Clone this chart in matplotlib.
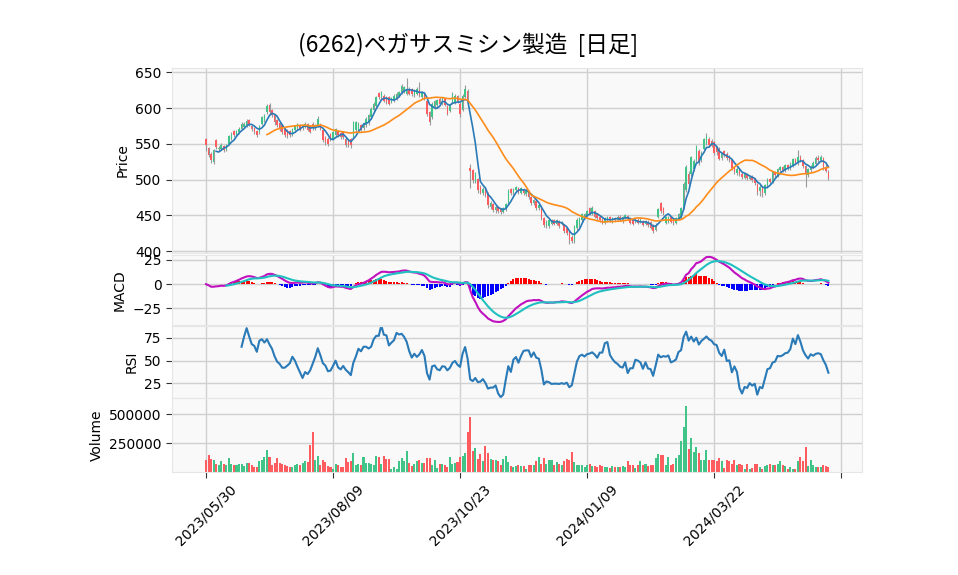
import numpy as np
import pandas as pd
import matplotlib
matplotlib.use("Agg")
import matplotlib.pyplot as plt

title = "(6262)ペガサスミシン製造  [日足]"
tick_pos = [0, 50, 100, 150, 200, 250]
tick_labels = ["2023/05/30", "2023/08/09", "2023/10/23", "2024/01/09", "2024/03/22", ""]

opens = [
 556,544,535,525,555,543,543,547,542,550, 557,568,563,566,571,574,576,583,575,572,
 568,566,578,583,594,604,597,590,583,579, 576,571,569,567,563,569,572,576,572,574,
 577,574,578,572,576,577,569,559,557,563, 557,562,568,565,566,557,555,556,559,569,
 570,576,572,576,579,587,597,603,621,615, 617,615,615,609,611,613,617,622,623,620,
 627,626,618,620,625,615,620,610,594,587, 601,604,613,606,612,603,596,608,608,616,
 606,598,616,624,516,513,497,500,490,481, 486,481,462,466,457,461,458,455,459,468,
 486,481,486,488,482,487,480,484,475,467, 470,460,462,446,436,435,438,443,438,441,
 438,436,432,428,420,414,432,436,443,447, 450,460,452,456,452,448,445,440,443,447,
 441,446,444,448,442,447,449,446,443,441, 444,441,442,438,441,440,436,430,448,467,
 460,440,441,447,442,440,445,448,461,485, 508,508,515,527,540,527,543,550,556,554,
 552,545,543,530,540,536,532,527,517,509, 513,508,503,507,501,504,500,494,484,489,
 482,492,501,497,509,506,513,517,513,520, 516,520,528,523,531,527,519,507,513,518,
 522,530,527,530,518,511]
highs = [
 558,546,538,543,557,547,551,549,550,563, 566,570,569,573,580,581,585,585,577,574,
 570,577,589,592,606,607,599,592,585,581, 578,573,571,569,572,577,579,578,578,580,
 579,576,580,578,589,579,571,561,559,565, 568,572,570,567,568,559,557,558,582,582,
 580,578,581,587,592,601,608,617,623,624, 619,617,617,616,619,622,624,633,631,642,
 629,628,627,629,637,624,622,612,596,608, 612,613,615,615,614,605,606,622,619,618,
 608,620,632,626,522,515,511,502,492,490, 488,483,470,468,464,463,461,462,468,487,
 488,489,491,490,490,489,487,486,477,473, 472,466,464,448,443,446,445,445,445,443,
 442,438,434,430,422,437,446,448,454,454, 458,462,463,458,454,450,447,448,449,449,
 448,448,451,450,449,452,451,448,445,446, 446,446,444,443,443,442,438,439,460,469,
 462,449,449,449,444,448,454,462,497,520, 512,533,529,549,543,540,558,565,560,557,
 554,547,545,538,542,538,534,529,519,517, 515,510,510,509,506,506,502,496,492,491,
 494,502,503,512,512,516,519,519,522,522, 524,530,530,542,534,529,521,516,520,526,
 533,535,535,532,522,513]
lows = [
 540,532,523,522,543,540,541,538,540,548, 555,560,561,564,569,572,574,575,568,564,
 559,564,576,581,592,591,587,577,573,568, 564,559,558,559,561,567,570,568,570,572,
 568,565,570,570,574,569,553,549,547,554, 555,560,560,557,557,545,546,544,557,567,
 568,568,570,574,577,585,595,601,613,613, 608,606,604,607,609,611,615,620,621,618,
 618,617,616,618,616,613,611,589,576,585, 599,602,604,604,603,590,594,606,606,607,
 588,596,614,609,488,496,495,482,480,479, 476,461,459,455,454,453,452,453,456,466,
 478,479,483,480,480,478,477,473,465,464, 458,457,443,434,433,433,436,436,436,433,
 436,425,422,410,411,412,430,434,441,445, 448,450,450,446,444,441,438,438,441,441,
 439,442,442,442,440,445,443,438,436,439, 438,439,435,436,434,431,425,428,446,454,
 451,438,439,439,437,438,443,446,459,483, 490,505,512,525,521,525,541,548,546,545,
 535,535,527,528,532,528,525,514,508,506, 505,501,501,500,499,497,493,478,477,476,
 479,489,494,495,503,504,510,510,511,514, 514,518,520,521,524,516,490,504,510,516,
 520,524,525,514,510,500]
closes = [
 549,535,527,541,546,544,548,541,548,561, 564,562,567,571,578,578,582,577,571,567,
 562,575,587,590,603,594,590,580,576,571, 567,562,561,562,570,575,577,570,576,578,
 570,567,572,576,585,571,556,552,550,556, 566,570,562,560,560,548,549,548,580,580,
 578,570,579,585,590,599,606,615,615,622, 610,608,606,614,617,620,622,631,629,627,
 620,619,625,627,618,622,613,592,580,606, 610,611,606,613,605,592,604,620,617,609,
 592,616,626,611,512,499,509,485,482,487, 479,464,467,458,461,456,455,460,466,485,
 482,487,489,483,488,481,485,476,468,471, 461,464,446,437,440,444,443,438,443,435,
 440,428,425,415,414,435,444,446,452,452, 456,452,460,448,446,443,440,446,447,443,
 446,444,448,444,447,450,445,440,438,444, 440,444,437,441,436,433,428,437,458,456,
 453,447,447,441,439,446,452,460,494,517, 494,531,526,547,524,537,556,561,549,547,
 537,538,529,536,534,530,527,516,511,514, 508,504,508,502,504,499,496,483,490,481,
 492,500,497,510,506,514,517,513,520,516, 521,528,523,532,527,519,508,514,518,523,
 530,527,532,517,512,502]
volumes = [
 108000,148000,114000,108000,71000,57000,97000,71000,57000,125000,
 71000,62000,57000,71000,71000,48000,80000,80000,57000,40000,
 40000,91000,108000,131000,190000,131000,57000,80000,119000,80000,
 71000,62000,48000,40000,40000,57000,71000,57000,80000,91000,
 85000,236000,347000,108000,142000,57000,100000,85000,51000,40000,
 23000,71000,57000,40000,40000,119000,85000,97000,165000,57000,
 71000,62000,134000,80000,80000,71000,62000,142000,134000,71000,
 142000,114000,114000,28000,45000,28000,91000,125000,91000,185000,
 80000,48000,71000,91000,108000,80000,80000,119000,119000,62000,
 100000,34000,71000,71000,57000,40000,134000,71000,80000,85000,
 134000,142000,165000,347000,474000,185000,207000,114000,156000,91000,
 227000,165000,114000,108000,100000,91000,62000,114000,142000,85000,
 48000,43000,51000,57000,51000,48000,28000,57000,57000,57000,
 91000,128000,71000,119000,71000,108000,100000,65000,85000,71000,
 57000,91000,114000,108000,170000,85000,65000,62000,65000,43000,
 62000,71000,51000,51000,45000,57000,51000,40000,43000,34000,
 48000,43000,40000,43000,48000,43000,91000,57000,57000,34000,
 62000,91000,62000,71000,48000,65000,57000,120000,156000,148000,
 150000,57000,134000,57000,71000,122000,148000,270000,389000,568000,
 199000,295000,170000,213000,165000,108000,108000,193000,100000,108000,
 108000,91000,125000,91000,34000,108000,91000,71000,108000,65000,
 71000,57000,28000,71000,28000,34000,71000,71000,43000,28000,
 48000,57000,71000,62000,62000,71000,91000,62000,48000,23000,
 43000,28000,28000,91000,128000,91000,219000,51000,108000,57000,
 43000,40000,40000,57000,51000,40000]

o = np.array(opens, float); h = np.array(highs, float)
l = np.array(lows, float); c = np.array(closes, float)
v = np.array(volumes, float)
N = len(c)
x = np.arange(N)

cs = pd.Series(c)
ma5 = cs.rolling(5).mean()
ma25 = cs.rolling(25).mean()
macd = cs.ewm(span=12, adjust=False).mean() - cs.ewm(span=26, adjust=False).mean()
signal = macd.ewm(span=9, adjust=False).mean()
signal[:8] = np.nan
hist = macd - signal
d = cs.diff()
gain = d.clip(lower=0).rolling(14).mean()
loss = (-d.clip(upper=0)).rolling(14).mean()
rsi = 100 - 100 / (1 + gain / loss)

UP = "#40c488"
DN = "#fe5c5e"
BG = "#f9f9f9"
GRID = "#d0d0d0"

fig = plt.figure(figsize=(9.58, 5.75), dpi=100)
L0, W0 = 0.1795, 0.7205
ax1 = fig.add_axes([L0, 0.560, W0, 0.3217])
ax2 = fig.add_axes([L0, 0.4348, W0, 0.1217], sharex=ax1)
ax3 = fig.add_axes([L0, 0.3078, W0, 0.1252], sharex=ax1)
ax4 = fig.add_axes([L0, 0.1791, W0, 0.1287], sharex=ax1)

for ax in (ax1, ax2, ax3, ax4):
    ax.set_facecolor(BG)
    ax.grid(True, color=GRID, linewidth=1)
    ax.set_axisbelow(True)
    for s in ax.spines.values():
        s.set_color("#e6e6e6")
    ax.tick_params(axis="y", labelsize=10, length=4, color="#333333")
    ax.tick_params(axis="x", labelsize=10, length=4, color="#333333")

# candles
up = c >= o
col = np.where(up, UP, DN)
ax1.vlines(x, l, h, color="#9a9a9a", linewidth=0.8, zorder=2)
ax1.bar(x, np.abs(c - o) + 0.3, bottom=np.minimum(o, c), width=0.6, color=col, zorder=3, linewidth=0)
ax1.plot(x, ma5, color="#2a7ab8", linewidth=1.2, zorder=4)
ax1.plot(x, ma25, color="#ff8c1a", linewidth=1.2, zorder=4)
ax1.set_ylim(397.5, 656)
ax1.set_yticks([400, 450, 500, 550, 600, 650])
ax1.set_ylabel("Price", fontsize=10)

# MACD
hcol = np.where(hist >= 0, "red", "blue")
ax2.bar(x, hist, width=0.8, color=hcol, linewidth=0, zorder=2)
ax2.plot(x, macd, color="#c010c0", linewidth=1.5, zorder=3)
ax2.plot(x, signal, color="#20c0c0", linewidth=1.5, zorder=3)
ax2.set_ylim(-42, 30)
ax2.set_yticks([-25, 0, 25])
ax2.set_ylabel("MACD", fontsize=10)

# RSI
ax3.plot(x, rsi, color="#2a7ab8", linewidth=1.5)
ax3.set_ylim(9, 88)
ax3.set_yticks([25, 50, 75])
ax3.set_ylabel("RSI", fontsize=10)

# Volume
ax4.bar(x, v, width=0.8, color=col, linewidth=0)
ax4.set_ylim(0, 640000)
ax4.set_yticks([250000, 500000])
ax4.set_yticklabels(["250000", "500000"])
ax4.set_ylabel("Volume", fontsize=10)

ax1.set_xlim(-13.4, 258.3)
ax4.set_xticks(tick_pos)
ax4.set_xticklabels(tick_labels, rotation=45, ha="center")
for ax in (ax1, ax2, ax3):
    ax.tick_params(axis="x", labelbottom=False, length=0)

fig.text(0.4885, 0.922, title, ha="center", va="center", fontsize=16.3,
         family=["Noto Sans CJK JP", "DejaVu Sans"])

fig.savefig("out.png", dpi=100, facecolor="white")
